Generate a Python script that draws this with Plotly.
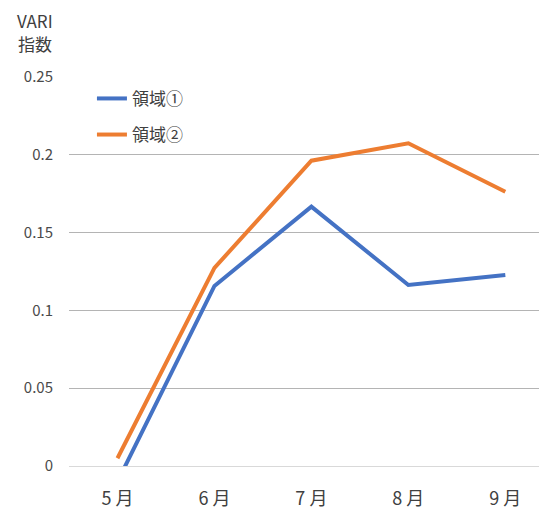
import plotly.graph_objects as go

months = ["5 月", "6 月", "7 月", "8 月", "9 月"]
region1 = [-0.010, 0.1157, 0.1667, 0.1163, 0.1228]
region2 = [0.005, 0.1273, 0.1962, 0.2074, 0.1763]
series_names = ["領域①", "領域②"]
y_ticks = [0, 0.05, 0.1, 0.15, 0.2, 0.25]
y_tick_labels = ["0", "0.05", "0.1", "0.15", "0.2", "0.25"]

FONT = "Noto Sans CJK JP, Noto Sans, sans-serif"

fig = go.Figure()
fig.add_trace(go.Scatter(x=list(range(len(months))), y=region1, mode="lines",
                         name=series_names[0], legendgroup="a",
                         line=dict(color="#4472C4", width=4)))
fig.add_trace(go.Scatter(x=list(range(len(months))), y=region2, mode="lines",
                         name=series_names[1], legendgroup="b",
                         line=dict(color="#ED7D31", width=4)))

fig.update_layout(
    width=539, height=501,
    margin=dict(l=61, r=0, t=69, b=43),
    paper_bgcolor="white", plot_bgcolor="white",
    font=dict(family=FONT, size=16, color="#595959"),
    showlegend=True,
    legend=dict(x=0.048, y=0.99, xanchor="left", yanchor="top",
                bgcolor="rgba(0,0,0,0)", font=dict(size=17, color="#404040"),
                tracegroupgap=11, itemwidth=30),
    xaxis=dict(tickmode="array", tickvals=list(range(len(months))), ticktext=months,
               range=[-0.5, 4.43], showgrid=False, zeroline=False, showline=False,
               automargin=False,
               ticks="", ticklabelstandoff=20, tickfont=dict(size=18, color="#404040")),
    yaxis=dict(range=[0, 0.25], tickmode="array", tickvals=y_ticks, ticktext=y_tick_labels,
               showgrid=True, gridcolor="#b4b4b4", gridwidth=1,
               zeroline=True, zerolinecolor="#d9d9d9", zerolinewidth=1,
               showline=False, ticks="", ticklabelstandoff=15, automargin=False,
               tickfont=dict(size=15, color="#4a4a4a")),
    annotations=[
        dict(text="VARI", xref="paper", yref="paper", x=0, y=1.0, xshift=-34, yshift=57,
             xanchor="center", yanchor="middle", showarrow=False,
             font=dict(size=17, color="#404040")),
        dict(text="指数", xref="paper", yref="paper", x=0, y=1.0, xshift=-34, yshift=34,
             xanchor="center", yanchor="middle", showarrow=False,
             font=dict(size=17, color="#404040")),
    ],
)

fig.write_html("out.html")
